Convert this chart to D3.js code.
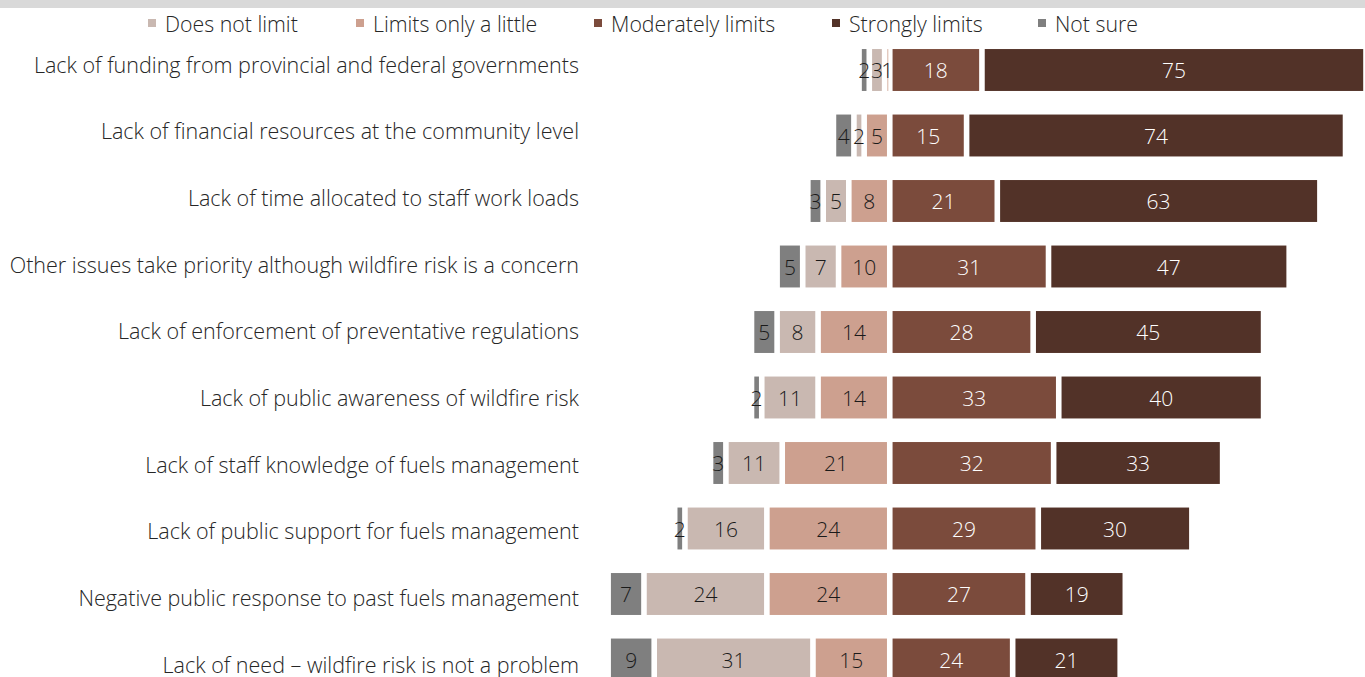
<!DOCTYPE html>
<html><head><meta charset="utf-8">
<script src="https://cdn.jsdelivr.net/npm/d3@7/dist/d3.min.js"></script>
<style>
html,body{margin:0;padding:0;background:#fff;}
svg{display:block;font-family:"Open Sans",sans-serif;}
</style></head>
<body>
<svg id="chart" width="1365" height="677"></svg>
<script>
const categories = [
  "Lack of funding from provincial and federal governments",
  "Lack of financial resources at the community level",
  "Lack of time allocated to staff work loads",
  "Other issues take priority although wildfire risk is a concern",
  "Lack of enforcement of preventative regulations",
  "Lack of public awareness of wildfire risk",
  "Lack of staff knowledge of fuels management",
  "Lack of public support for fuels management",
  "Negative public response to past fuels management",
  "Lack of need \u2013 wildfire risk is not a problem"
];
const seriesNames = ["Does not limit","Limits only a little","Moderately limits","Strongly limits","Not sure"];
const notSure       = [2, 4, 3, 5, 5, 2, 3, 2, 7, 9];
const doesNotLimit  = [3, 2, 5, 7, 8, 11, 11, 16, 24, 31];
const limitsLittle  = [1, 5, 8, 10, 14, 14, 21, 24, 24, 15];
const moderately    = [18, 15, 21, 31, 28, 33, 32, 29, 27, 24];
const strongly      = [75, 74, 63, 47, 45, 40, 33, 30, 19, 21];
const colors = {
  "Does not limit":"#c9b8b1",
  "Limits only a little":"#cda08f",
  "Moderately limits":"#7b4b3c",
  "Strongly limits":"#523228",
  "Not sure":"#7f7f7f"
};
const labelColors = {
  "Does not limit":"#1a1a1a",
  "Limits only a little":"#1a1a1a",
  "Moderately limits":"#ffffff",
  "Strongly limits":"#ffffff",
  "Not sure":"#1a1a1a"
};

const svg = d3.select("#chart");
svg.append("rect").attr("x",0).attr("y",0).attr("width",1365).attr("height",8).attr("fill","#d9d9d9");

const x = d3.scaleLinear().domain([-56, 93]).range([603, 1366]);
const y = d3.scaleBand().domain(categories).range([37.25, 692.25]).paddingInner(0.36).paddingOuter(0.18);
const yLabel = d3.scalePoint().domain(categories).range([64, 664]);

const segs = [];
categories.forEach((c,i)=>{
  let l = 0;
  [["Limits only a little",limitsLittle[i]],["Does not limit",doesNotLimit[i]],["Not sure",notSure[i]]].forEach(([s,v])=>{
    segs.push({cat:c, s, v, x0:-(l+v), x1:-l}); l += v;
  });
  let r = 0;
  [["Moderately limits",moderately[i]],["Strongly limits",strongly[i]]].forEach(([s,v])=>{
    segs.push({cat:c, s, v, x0:r, x1:r+v}); r += v;
  });
});

const inset = 2.8;
svg.append("g").selectAll("rect").data(segs).join("rect")
  .attr("x", d=>x(d.x0)+inset)
  .attr("width", d=>Math.max(0.8, x(d.x1)-x(d.x0)-2*inset))
  .attr("y", d=>y(d.cat))
  .attr("height", y.bandwidth())
  .attr("fill", d=>colors[d.s]);

svg.append("g").selectAll("text").data(segs).join("text")
  .attr("x", d=>(x(d.x0)+x(d.x1))/2)
  .attr("y", d=>y(d.cat)+y.bandwidth()/2)
  .attr("text-anchor","middle")
  .attr("dominant-baseline","central")
  .attr("font-size",21)
  .attr("font-weight",300)
  .attr("fill", d=>labelColors[d.s])
  .text(d=>d.v);

svg.append("g").selectAll("text").data(categories).join("text")
  .attr("x",579)
  .attr("y", d=>yLabel(d))
  .attr("text-anchor","end")
  .attr("dominant-baseline","central")
  .attr("font-size",21.5)
  .attr("font-weight",300)
  .attr("fill","#262626")
  .text(d=>d);

const legendX = d3.scaleOrdinal().domain(seriesNames).range([148, 356, 594, 832, 1038]);
const lg = svg.append("g").selectAll("g").data(seriesNames).join("g")
  .attr("transform", d=>`translate(${legendX(d)},23)`);
lg.append("rect").attr("x",0).attr("y",-4).attr("width",8).attr("height",8).attr("fill",d=>colors[d]);
lg.append("text").attr("x",17).attr("y",0).attr("dominant-baseline","central")
  .attr("font-size",21.3).attr("font-weight",300).attr("fill","#262626").text(d=>d);
</script>
</body></html>
